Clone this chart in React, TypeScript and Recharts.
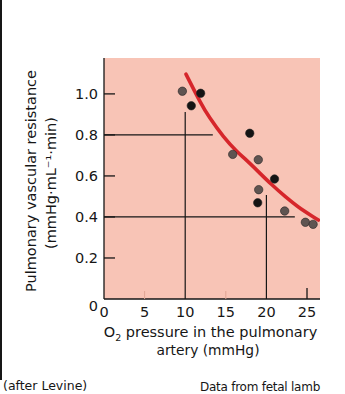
import React from "react";
import {
  ComposedChart,
  XAxis,
  YAxis,
  CartesianGrid,
  Scatter,
  Line,
  ReferenceLine,
} from "recharts";

const X_TICKS = [0, 5, 10, 15, 20, 25];
const Y_TICKS = [0, 0.2, 0.4, 0.6, 0.8, 1.0];

// fetal lamb measurements (O2 pressure mmHg, resistance)
const GRAY_POINTS = [
  { x: 9.65, y: 1.013 },
  { x: 15.85, y: 0.705 },
  { x: 19.0, y: 0.679 },
  { x: 19.05, y: 0.533 },
  { x: 22.25, y: 0.429 },
  { x: 24.8, y: 0.374 },
  { x: 25.75, y: 0.364 },
];
const BLACK_POINTS = [
  { x: 10.75, y: 0.942 },
  { x: 11.9, y: 1.003 },
  { x: 17.95, y: 0.808 },
  { x: 21.0, y: 0.585 },
  { x: 18.93, y: 0.469 },
];

// fitted curve
const FIT_CURVE = [
  { x: 10.1, y: 1.096 },
  { x: 11.8, y: 0.965 },
  { x: 13.05, y: 0.882 },
  { x: 14.7, y: 0.793 },
  { x: 16.35, y: 0.72 },
  { x: 17.5, y: 0.678 },
  { x: 19.0, y: 0.621 },
  { x: 20.65, y: 0.558 },
  { x: 22.3, y: 0.5 },
  { x: 23.9, y: 0.45 },
  { x: 25.6, y: 0.405 },
  { x: 26.4, y: 0.385 },
];

// construction lines
const GUIDE_V = [
  { x: 10, top: 0.912 },
  { x: 20, top: 0.507 },
];
const GUIDE_H = [
  { y: 0.8, right: 13.4 },
  { y: 0.4, right: 23.5 },
];

const FONT = "'DejaVu Sans', sans-serif";
const INK = "#161616";

function YTick(props: any) {
  const { x, y, payload } = props;
  const v = payload.value as number;
  const ax = x + 6;
  return (
    <g>
      {v !== 0 && (
        <line x1={ax} x2={ax + 11} y1={y} y2={y} stroke={INK} strokeWidth={1.3} />
      )}
      <text
        x={x}
        y={y + (v === 0 ? 12 : 5.3)}
        textAnchor="end"
        fontFamily={FONT}
        fontSize={14.5}
        fill={INK}
      >
        {v === 0 ? "0" : v.toFixed(1)}
      </text>
    </g>
  );
}

function XTick(props: any) {
  const { x, y, payload } = props;
  const v = payload.value as number;
  return (
    <g>
      {v === 25 && (
        <line x1={x} x2={x} y1={y} y2={y - 11} stroke={INK} strokeWidth={1.3} />
      )}
      {(v === 5 || v === 15) && (
        <line x1={x} x2={x} y1={y} y2={y - 8} stroke="#dfa595" strokeWidth={1} />
      )}
      <text
        x={x}
        y={y + 18}
        textAnchor="middle"
        fontFamily={FONT}
        fontSize={14.5}
        fill={INK}
      >
        {v}
      </text>
    </g>
  );
}

const dot = (fill: string) => (p: any) => (
  <circle cx={p.cx} cy={p.cy} r={4.2} fill={fill} stroke="#222" strokeWidth={0.6} />
);

export default function App() {
  return (
    <div
      style={{
        position: "absolute",
        left: 0,
        top: 0,
        width: 345,
        height: 394,
        background: "#fff",
      }}
    >
      <ComposedChart
        width={345}
        height={394}
        margin={{ top: 58, right: 25, bottom: 0, left: 0 }}
      >
        <CartesianGrid fill="#f8c4b6" horizontal={false} vertical={false} />
        <XAxis
          type="number"
          dataKey="x"
          domain={[0, 26.6]}
          ticks={X_TICKS}
          height={95}
          tickSize={0}
          tickMargin={0}
          tickLine={false}
          axisLine={{ stroke: INK, strokeWidth: 1.3 }}
          tick={<XTick />}
          allowDataOverflow
        />
        <YAxis
          type="number"
          dataKey="y"
          domain={[0, 1.175]}
          ticks={Y_TICKS}
          width={104}
          tickSize={0}
          tickMargin={6}
          tickLine={false}
          axisLine={{ stroke: INK, strokeWidth: 1.3 }}
          tick={<YTick />}
          allowDataOverflow
        />
        {GUIDE_V.map((g) => (
          <ReferenceLine
            key={"v" + g.x}
            segment={[
              { x: g.x, y: 0 },
              { x: g.x, y: g.top },
            ]}
            stroke={INK}
            strokeWidth={1.2}
          />
        ))}
        {GUIDE_H.map((g) => (
          <ReferenceLine
            key={"h" + g.y}
            segment={[
              { x: 0, y: g.y },
              { x: g.right, y: g.y },
            ]}
            stroke={INK}
            strokeWidth={1.2}
          />
        ))}
        <Scatter data={GRAY_POINTS} shape={dot("#5f5451")} isAnimationActive={false} />
        <Scatter data={BLACK_POINTS} shape={dot("#141414")} isAnimationActive={false} />
        <Line
          data={FIT_CURVE}
          dataKey="y"
          type="natural"
          stroke="#d6262b"
          strokeWidth={3.6}
          strokeLinecap="round"
          dot={false}
          activeDot={false}
          isAnimationActive={false}
        />
      </ComposedChart>

      <svg
        width={345}
        height={394}
        style={{ position: "absolute", left: 0, top: 0, pointerEvents: "none" }}
      >
        <line x1={1} x2={1} y1={0} y2={380} stroke={INK} strokeWidth={2} />
        <text
          transform="translate(36,181) rotate(-90)"
          textAnchor="middle"
          fontFamily={FONT}
          fontSize={14.5}
          fill={INK}
        >
          Pulmonary vascular resistance
        </text>
        <text
          transform="translate(56,183) rotate(-90)"
          textAnchor="middle"
          fontFamily={FONT}
          fontSize={14.5}
          fill={INK}
        >
          (mmHg·mL⁻¹·min)
        </text>
        <text
          x={210.5}
          y={337}
          textAnchor="middle"
          fontFamily={FONT}
          fontSize={14.5}
          fill={INK}
        >
          O
          <tspan fontSize={9.5} dy={4}>
            2
          </tspan>
          <tspan dy={-4}> pressure in the pulmonary</tspan>
        </text>
        <text
          x={208}
          y={355}
          textAnchor="middle"
          fontFamily={FONT}
          fontSize={13.8}
          fill={INK}
        >
          artery (mmHg)
        </text>
        <text x={3} y={390} fontFamily={FONT} fontSize={12.5} fill={INK}>
          (after Levine)
        </text>
        <text
          x={320}
          y={391}
          textAnchor="end"
          fontFamily={FONT}
          fontSize={12}
          letterSpacing={-0.25}
          fill={INK}
        >
          Data from fetal lamb
        </text>
      </svg>
    </div>
  );
}
